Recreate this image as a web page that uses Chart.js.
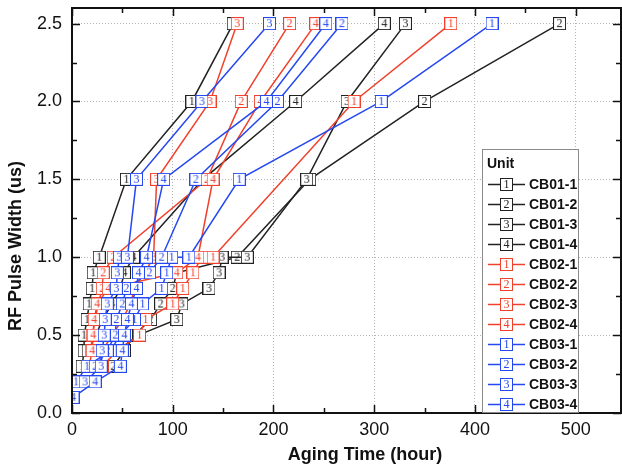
<!DOCTYPE html>
<html>
<head>
<meta charset="utf-8">
<script src="https://cdn.jsdelivr.net/npm/chart.js@4.4.1/dist/chart.umd.min.js"></script>
<style>
html, body { margin: 0; padding: 0; background: #fff; }
canvas { display: block; }
</style>
</head>
<body>
<canvas id="agingChart" width="622" height="467"></canvas>
<script>
// RF pulse width (us) reached vs aging time (hour), one pair of arrays per unit
var cb01_1_w = [0.3, 0.4, 0.5, 0.6, 0.7, 0.8, 0.9, 1.0, 1.5, 2.0, 2.5];
var cb01_1_t = [10, 12, 12, 15, 17, 20, 21, 27, 54, 119, 160];
var cb01_2_w = [0.3, 0.4, 0.5, 0.6, 0.7, 0.8, 0.9, 1.0, 1.5, 2.0, 2.5];
var cb01_2_t = [41, 52, 62, 78, 88, 100, 104, 164, 236, 350, 484];
var cb01_3_w = [0.4, 0.5, 0.6, 0.7, 0.8, 0.9, 1.0, 1.0, 1.5, 2.0, 2.5];
var cb01_3_t = [45, 66, 104, 109, 136, 146, 149, 174, 233, 273, 331];
var cb01_4_w = [0.4, 0.5, 0.6, 0.7, 0.8, 0.9, 1.0, 1.5, 2.0, 2.5];
var cb01_4_t = [16, 24, 30, 40, 48, 52, 61, 130, 222, 310];

var cb02_1_w = [0.3, 0.4, 0.5, 0.6, 0.7, 0.8, 0.9, 1.0, 1.0, 2.0, 2.5];
var cb02_1_t = [30, 45, 67, 73, 100, 110, 120, 129, 140, 280, 376];
var cb02_2_w = [0.4, 0.5, 0.6, 0.7, 0.8, 0.9, 1.0, 1.5, 2.0, 2.5];
var cb02_2_t = [19, 20, 23, 26, 30, 31, 41, 134, 168, 216];
var cb02_3_w = [0.4, 0.5, 0.6, 0.7, 0.8, 0.9, 1.0, 1.5, 2.0, 2.5];
var cb02_3_t = [30, 40, 50, 58, 62, 72, 81, 84, 137, 164];
var cb02_4_w = [0.3, 0.4, 0.5, 0.6, 0.7, 0.8, 0.9, 1.0, 1.5, 2.0, 2.5];
var cb02_4_t = [17, 20, 21, 22, 25, 36, 104, 125, 140, 187, 242];

var cb03_1_w = [0.2, 0.3, 0.4, 0.5, 0.6, 0.7, 0.8, 0.9, 1.0, 1.0, 1.5, 2.0, 2.5];
var cb03_1_t = [4, 15, 38, 48, 62, 70, 89, 94, 99, 116, 166, 307, 417];
var cb03_2_w = [0.3, 0.4, 0.5, 0.6, 0.7, 0.8, 0.9, 1.0, 1.5, 2.0, 2.5];
var cb03_2_t = [23, 35, 43, 44, 50, 54, 77, 89, 123, 204, 268];
var cb03_3_w = [0.2, 0.3, 0.4, 0.5, 0.6, 0.7, 0.8, 0.9, 1.0, 1.0, 1.5, 2.0, 2.5];
var cb03_3_t = [13, 29, 30, 32, 33, 35, 44, 45, 47, 55, 64, 129, 196];
var cb03_4_w = [0.1, 0.2, 0.3, 0.4, 0.5, 0.6, 0.7, 0.8, 0.9, 1.0, 1.5, 2.0, 2.5];
var cb03_4_t = [1, 23, 48, 50, 52, 55, 59, 64, 66, 74, 91, 193, 252];

var unitNames = ['CB01-1', 'CB01-2', 'CB01-3', 'CB01-4',
                 'CB02-1', 'CB02-2', 'CB02-3', 'CB02-4',
                 'CB03-1', 'CB03-2', 'CB03-3', 'CB03-4'];
var unitTimes = [cb01_1_t, cb01_2_t, cb01_3_t, cb01_4_t,
                 cb02_1_t, cb02_2_t, cb02_3_t, cb02_4_t,
                 cb03_1_t, cb03_2_t, cb03_3_t, cb03_4_t];
var unitWidths = [cb01_1_w, cb01_2_w, cb01_3_w, cb01_4_w,
                  cb02_1_w, cb02_2_w, cb02_3_w, cb02_4_w,
                  cb03_1_w, cb03_2_w, cb03_3_w, cb03_4_w];

var xTicks = [0, 100, 200, 300, 400, 500];
var yTicks = [0.0, 0.5, 1.0, 1.5, 2.0, 2.5];

var groupColors = ['#222222', '#f0412d', '#2548f0'];
var FONT = "'Liberation Sans', Arial, sans-serif";

Chart.defaults.font.family = FONT;
Chart.defaults.color = '#111';

// square marker with the unit number inside
function makeMarker(color, num) {
    var c = document.createElement('canvas');
    c.width = 13;
    c.height = 13;
    var g = c.getContext('2d');
    g.fillStyle = '#fff';
    g.fillRect(0, 0, 13, 13);
    g.strokeStyle = color;
    g.lineWidth = 1;
    g.strokeRect(0.5, 0.5, 12, 12);
    g.fillStyle = color;
    g.font = "12px 'Liberation Serif', 'DejaVu Serif', serif";
    g.textAlign = 'center';
    g.textBaseline = 'middle';
    g.fillText(String(num), 6.5, 7);
    return c;
}

// no extra room for edge tick labels
function noScalePadding(s) {
    s.paddingLeft = 0;
    s.paddingRight = 0;
    s.paddingTop = 0;
    s.paddingBottom = 0;
}

var datasets = unitNames.map(function (name, i) {
    var color = groupColors[Math.floor(i / 4)];
    var marker = makeMarker(color, (i % 4) + 1);
    return {
        label: name,
        data: unitTimes[i].map(function (t, k) { return { x: t, y: unitWidths[i][k] }; }),
        borderColor: color,
        backgroundColor: color,
        borderWidth: 1.5,
        pointStyle: marker,
        pointRadius: 6,
        tension: 0,
        order: unitNames.length - i, // later units drawn on top
        marker: marker
    };
});

// frame with inward ticks, boxed legend and axis titles
var decorPlugin = {
    id: 'decor',
    afterDraw: function (chart) {
        var ctx = chart.ctx;
        var a = chart.chartArea;
        var xs = chart.scales.x;
        var ys = chart.scales.y;
        ctx.save();

        ctx.strokeStyle = '#111';
        ctx.lineWidth = 2;
        ctx.strokeRect(a.left, a.top, a.right - a.left, a.bottom - a.top);

        ctx.lineWidth = 1.5;
        ctx.beginPath();
        for (var v = 0; v <= xs.max; v += 50) {
            var len = (v % 100 === 0) ? 8 : 5;
            var px = Math.round(xs.getPixelForValue(v)) + 0.5;
            ctx.moveTo(px, a.bottom); ctx.lineTo(px, a.bottom - len);
            ctx.moveTo(px, a.top); ctx.lineTo(px, a.top + len);
        }
        for (var w = 0; w <= ys.max + 1e-9; w += 0.25) {
            var ylen = (Math.abs(w * 2 - Math.round(w * 2)) < 1e-6) ? 8 : 5;
            var py = Math.round(ys.getPixelForValue(w)) + 0.5;
            ctx.moveTo(a.left, py); ctx.lineTo(a.left + ylen, py);
            ctx.moveTo(a.right, py); ctx.lineTo(a.right - ylen, py);
        }
        ctx.stroke();

        // legend box
        var bx = 482, by = 149, bw = 96, bh = a.bottom - 1 - by;
        ctx.fillStyle = '#fff';
        ctx.fillRect(bx, by, bw, bh);
        ctx.strokeStyle = '#8a8a8a';
        ctx.lineWidth = 1;
        ctx.strokeRect(bx + 0.5, by + 0.5, bw, bh);

        ctx.fillStyle = '#111';
        ctx.font = 'bold 14px ' + FONT;
        ctx.textAlign = 'left';
        ctx.textBaseline = 'middle';
        ctx.fillText('Unit', 487, 164);

        chart.data.datasets.forEach(function (ds, i) {
            var ly = 184 + i * 20;
            ctx.strokeStyle = ds.borderColor;
            ctx.lineWidth = 1.5;
            ctx.beginPath();
            ctx.moveTo(488, ly + 0.5);
            ctx.lineTo(525, ly + 0.5);
            ctx.stroke();
            ctx.drawImage(ds.marker, 500, ly - 6);
            ctx.fillStyle = '#111';
            ctx.font = 'bold 14px ' + FONT;
            ctx.fillText(ds.label, 529, ly + 1);
        });

        // axis titles
        ctx.fillStyle = '#111';
        ctx.font = 'bold 18px ' + FONT;
        ctx.textAlign = 'center';
        ctx.textBaseline = 'middle';
        ctx.fillText('Aging Time (hour)', 365, 455);
        ctx.translate(16, 246);
        ctx.rotate(-Math.PI / 2);
        ctx.fillText('RF Pulse Width (us)', 0, 0);

        ctx.restore();
    }
};

var ctx = document.getElementById('agingChart').getContext('2d');
var agingChart = new Chart(ctx, {
    type: 'line',
    data: { datasets: datasets },
    options: {
        responsive: false,
        animation: false,
        devicePixelRatio: 1,
        layout: { autoPadding: false, padding: { left: 0, right: 1, top: 8, bottom: 0 } },
        plugins: {
            legend: { display: false },
            tooltip: { enabled: false }
        },
        scales: {
            x: {
                type: 'linear',
                min: 0,
                max: 545,
                afterBuildTicks: function (s) { s.ticks = xTicks.map(function (v) { return { value: v }; }); },
                afterFit: function (s) {
                    s.height = 54;
                    noScalePadding(s);
                },
                grid: { color: '#b4b4b4', lineWidth: 1, drawTicks: false },
                border: { display: false, dash: [1, 2] },
                ticks: { padding: 6, color: '#111', font: { size: 18 } }
            },
            y: {
                type: 'linear',
                min: 0,
                max: 2.6,
                afterBuildTicks: function (s) { s.ticks = yTicks.map(function (v) { return { value: v }; }); },
                afterFit: function (s) {
                    s.width = 72;
                    noScalePadding(s);
                },
                grid: { color: '#b4b4b4', lineWidth: 1, drawTicks: false },
                border: { display: false, dash: [1, 2] },
                ticks: {
                    padding: 10,
                    color: '#111',
                    font: { size: 18 },
                    callback: function (v) { return Number(v).toFixed(1); }
                }
            }
        }
    },
    plugins: [decorPlugin]
});
</script>
</body>
</html>
